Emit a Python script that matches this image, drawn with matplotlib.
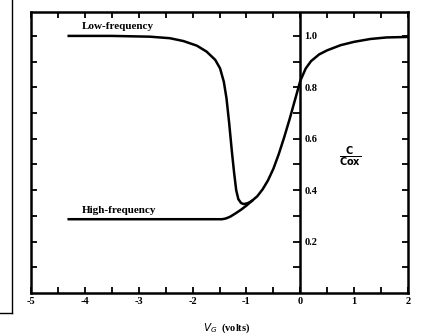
import numpy as np
import matplotlib.pyplot as plt
from matplotlib.lines import Line2D

# curve values
low_v = [-4.3, -3.5, -2.79, -2.42, -2.17, -1.92, -1.74, -1.58, -1.49, -1.42, -1.37,
         -1.32, -1.27, -1.23, -1.19, -1.15, -1.1, -1.05, -0.98, -0.9, -0.8, -0.7,
         -0.6, -0.5, -0.4, -0.3, -0.2, -0.1, 0.0, 0.1, 0.2, 0.35, 0.5, 0.75, 1.0,
         1.3, 1.6, 2.0]
low_c = [1.0, 1.0, 0.997, 0.991, 0.98, 0.962, 0.939, 0.907, 0.874, 0.822, 0.757,
         0.66, 0.55, 0.47, 0.40, 0.365, 0.35, 0.346, 0.349, 0.358, 0.376, 0.403,
         0.438, 0.483, 0.54, 0.605, 0.675, 0.75, 0.825, 0.873, 0.902, 0.928, 0.944,
         0.964, 0.977, 0.988, 0.994, 0.996]
high_v = [-4.3, -3.0, -2.0, -1.45, -1.38, -1.3, -1.2, -1.1, -1.0, -0.9]
high_c = [0.287, 0.287, 0.287, 0.287, 0.29, 0.297, 0.31, 0.324, 0.34, 0.358]

xticks = [-5, -4, -3, -2, -1, 0, 1, 2]
xlabels = ['-5', '-4', '-3', '-2', '-1', '0', '1', '2']
yticks = [0.2, 0.4, 0.6, 0.8, 1.0]
ylabels = ['0.2', '0.4', '0.6', '0.8', '1.0']

font = 'Liberation Serif'

fig = plt.figure(figsize=(4.23, 3.36), dpi=100)
ax = fig.add_axes([31 / 423, 1 - 293 / 336, 377 / 423, 281 / 336])

ax.plot(low_v, low_c, color='black', lw=1.8, solid_joinstyle='round')
ax.plot(high_v, high_c, color='black', lw=1.8, solid_joinstyle='round')

ax.set_xlim(-5, 2)
ax.set_ylim(0, 1.093)

for s in ax.spines.values():
    s.set_linewidth(1.8)

ax.set_xticks(xticks)
ax.set_xticklabels(xlabels, fontfamily=font, fontweight='bold', fontsize=7.5)
ax.set_xticks(np.arange(-4.5, 2, 1.0), minor=True)
ax.set_yticks(np.arange(0.1, 1.05, 0.1))
ax.set_yticklabels([])
ax.tick_params(axis='both', which='both', direction='in', top=True, right=True,
               length=4, width=1.3)
ax.tick_params(axis='x', pad=3)

# vertical axis through V = 0
ax.axvline(0, color='black', lw=1.8)
sec = ax.secondary_yaxis(5 / 7)
sec.spines['right'].set_visible(False)
sec.spines['left'].set_visible(False)
sec.set_yticks(yticks)
sec.set_yticklabels(ylabels, fontfamily=font, fontweight='bold', fontsize=7.5)
sec.set_yticks([0.1, 0.3, 0.5, 0.7, 0.9], minor=True)
sec.tick_params(axis='y', which='both', direction='in', length=5, width=1.3, pad=3)

ax.text(-4.05, 1.035, 'Low-frequency', fontfamily=font, fontweight='bold',
        fontsize=8, va='center', ha='left')
ax.text(-4.05, 0.322, 'High-frequency', fontfamily=font, fontweight='bold',
        fontsize=8, va='center', ha='left')
ax.text(0.92, 0.53, r'$\frac{\mathbf{C}}{\mathbf{Cox}}$', fontsize=10,
        ha='center', va='center')

fig.text(227 / 423, 1 - 328 / 336, r'$V_G$  (volts)', fontfamily=font,
         fontweight='bold', fontsize=7.5, ha='center', va='center')

# edge of a box cut off at the left
fig.add_artist(Line2D([12 / 423, 12 / 423], [1, 1 - 313 / 336], color='black', lw=1))
fig.add_artist(Line2D([0, 12 / 423], [1 - 313 / 336, 1 - 313 / 336], color='black', lw=1))

fig.savefig('out.png', dpi=100)
